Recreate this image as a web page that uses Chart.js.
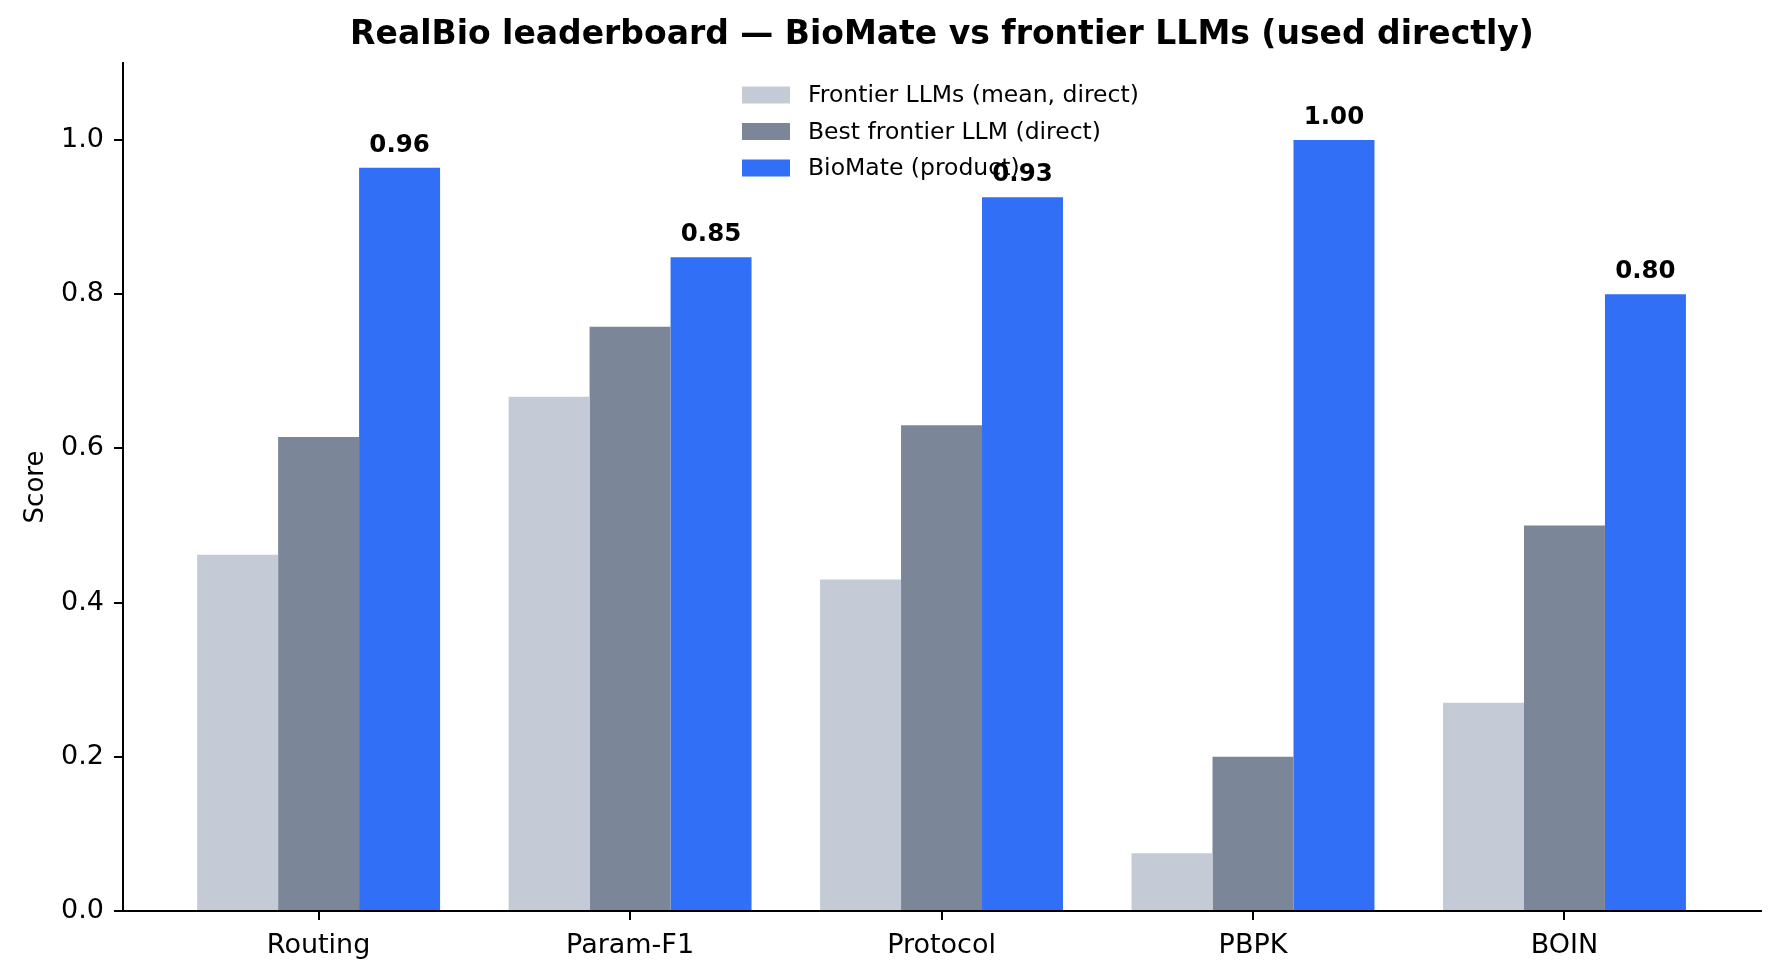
<!DOCTYPE html>
<html>
<head>
<meta charset="utf-8">
<script src="https://cdn.jsdelivr.net/npm/chart.js@4.4.1/dist/chart.umd.min.js"></script>
<style>
  html, body { margin: 0; padding: 0; background: #fff; overflow: hidden; }
  #wrap { width: 1780px; height: 977px; }
</style>
</head>
<body>
<div id="wrap"><canvas id="myChartLeaderboard"></canvas></div>
<script>
// Les données du graphique.
const categories = ['Routing', 'Param-F1', 'Protocol', 'PBPK', 'BOIN'];
const seriesLabels = ['Frontier LLMs (mean, direct)', 'Best frontier LLM (direct)', 'BioMate (product)'];
const meanDirect = [0.462, 0.667, 0.430, 0.075, 0.270];
const bestDirect = [0.615, 0.758, 0.630, 0.200, 0.500];
const bioMate = [0.964, 0.848, 0.926, 1.000, 0.800];
const yTicks = [0, 0.2, 0.4, 0.6, 0.8, 1.0];

const FONT = "'DejaVu Sans', Verdana, sans-serif";
Chart.defaults.color = '#000';
Chart.defaults.font.family = FONT;

const toPoints = (values) => values.map((v, i) => ({ x: i, y: v }));

// Légende dessinée dans la zone du graphique (comme matplotlib, sans cadre).
const legendPlugin = {
    id: 'legendInside',
    afterDraw(chart) {
        const ctx = chart.ctx;
        ctx.save();
        ctx.font = '23.5px ' + FONT;
        ctx.textBaseline = 'middle';
        chart.data.datasets.forEach((ds, k) => {
            const cy = 95 + k * 36.5;
            ctx.fillStyle = ds.backgroundColor;
            ctx.fillRect(742, cy - 8.5, 48, 17);
            ctx.fillStyle = '#000';
            ctx.fillText(ds.label, 808, cy + 1);
        });
        ctx.restore();
    }
};

// Valeurs au-dessus des barres BioMate.
const valueLabelPlugin = {
    id: 'valueLabels',
    afterDraw(chart) {
        const ctx = chart.ctx;
        const meta = chart.getDatasetMeta(2);
        ctx.save();
        ctx.font = 'bold 24.5px ' + FONT;
        ctx.textAlign = 'center';
        ctx.textBaseline = 'alphabetic';
        ctx.fillStyle = '#000';
        meta.data.forEach((bar, i) => {
            ctx.fillText(bioMate[i].toFixed(2), bar.x, bar.y - 16);
        });
        ctx.restore();
    }
};

const data = {
    datasets: [
        { label: seriesLabels[0], data: toPoints(meanDirect), backgroundColor: '#c5cbd6' },
        { label: seriesLabels[1], data: toPoints(bestDirect), backgroundColor: '#7b8799' },
        { label: seriesLabels[2], data: toPoints(bioMate), backgroundColor: '#316ff6' },
    ],
};

const options = {
    responsive: true,
    maintainAspectRatio: false,
    animation: false,
    layout: { padding: { left: 0, right: 19, top: 0, bottom: 0 } },
    datasets: {
        bar: { categoryPercentage: 0.78, barPercentage: 1.0, borderWidth: 0 },
    },
    plugins: {
        legend: { display: false },
        tooltip: { enabled: false },
        title: {
            display: true,
            fullSize: false,
            text: 'RealBio leaderboard — BioMate vs frontier LLMs (used directly)',
            color: '#000',
            font: { family: FONT, size: 33, weight: 'bold', lineHeight: 1.2 },
            padding: { top: 15.5, bottom: 7.9 },
        },
    },
    scales: {
        x: {
            type: 'linear',
            min: -0.628,
            max: 4.631,
            offset: false,
            afterFit: (axis) => { axis.height = 66; },
            afterBuildTicks: (axis) => { axis.ticks = categories.map((c, i) => ({ value: i })); },
            grid: { offset: false, drawOnChartArea: false, drawTicks: true, tickLength: 9, lineWidth: 2, color: '#000' },
            border: { display: true, color: '#000', width: 2 },
            ticks: {
                padding: 10,
                color: '#000',
                font: { family: FONT, size: 27 },
                callback: (value) => categories[value],
            },
        },
        y: {
            min: 0,
            max: 1.1,
            afterFit: (axis) => { axis.width = 123; },
            afterBuildTicks: (axis) => { axis.ticks = yTicks.map((v) => ({ value: v })); },
            grid: { drawOnChartArea: false, drawTicks: true, tickLength: 9, lineWidth: 2, color: '#000' },
            border: { display: true, color: '#000', width: 2 },
            ticks: {
                padding: 10,
                color: '#000',
                font: { family: FONT, size: 27 },
                callback: (value) => Number(value).toFixed(1),
            },
            title: {
                display: true,
                text: 'Score',
                color: '#000',
                font: { family: FONT, size: 26 },
                padding: { top: 21, bottom: 0 },
            },
        },
    },
};

new Chart(document.getElementById('myChartLeaderboard').getContext('2d'), {
    type: 'bar',
    data,
    options,
    plugins: [legendPlugin, valueLabelPlugin],
});
</script>
</body>
</html>
